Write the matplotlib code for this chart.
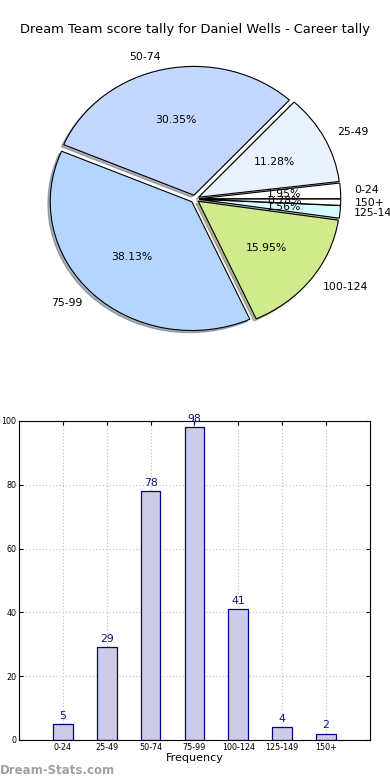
import matplotlib
matplotlib.use("Agg")
import matplotlib.pyplot as plt

# score bands and how often each was scored
bands = ["0-24", "25-49", "50-74", "75-99", "100-124", "125-149", "150+"]
counts = [5, 29, 78, 98, 41, 4, 2]
pie_colors = ["#ffffff", "#eaf1ff", "#c4d8ff", "#b4d5ff", "#d1eb8c", "#d6fbff", "#ffffff"]

title = "Dream Team score tally for Daniel Wells - Career tally"

plt.rcParams["font.family"] = "DejaVu Sans"
plt.rcParams["xtick.direction"] = "in"
plt.rcParams["ytick.direction"] = "in"

fig = plt.figure(figsize=(3.9, 7.8), dpi=100)
fig.text(0.5, 1 - 30 / 780, title, ha="center", va="center", fontsize=9.4)

# pie on top (old style: not forced round)
ax1 = fig.add_axes([0.0456, 0.5385, 0.908, 0.4128])
wedges, texts, autotexts = ax1.pie(
    counts,
    labels=bands,
    colors=pie_colors,
    explode=[0.03] * len(counts),
    autopct="%1.2f%%",
    startangle=0,
    shadow={"ox": -0.012, "oy": -0.012, "shade": 0.55},
    wedgeprops={"edgecolor": "black", "linewidth": 0.8},
    textprops={"fontsize": 7.8},
)
ax1.set_aspect("auto")
ax1.set_xlim(-1.25, 1.25)
ax1.set_ylim(-1.25, 1.25)

# bar chart underneath
ax2 = fig.add_axes([0.0487, 0.0513, 0.9, 0.409])
x = list(range(len(bands)))
bars = ax2.bar(x, counts, width=0.45, color="#cccce6", edgecolor="#000080", linewidth=0.9, zorder=2)
for xi, c in zip(x, counts):
    ax2.text(xi, c + 1, str(c), ha="center", va="bottom", color="#10107a", fontsize=7.8, zorder=3)
ax2.set_xlim(-1, 7)
ax2.set_ylim(0, 100)
ax2.set_xticks(x)
ax2.set_xticklabels(bands)
ax2.set_yticks([0, 20, 40, 60, 80, 100])
ax2.tick_params(axis="both", labelsize=5.8, top=True, right=True, length=3, pad=2)
ax2.grid(True, linestyle=(0, (1, 2)), color="#bbbbbb", linewidth=0.8, zorder=0)
ax2.set_axisbelow(True)
ax2.set_xlabel("Frequency", fontsize=8, labelpad=1)

fig.text(0.0, 1 - 771 / 780, "Dream-Stats.com", ha="left", va="center",
         fontsize=8.5, color="#a0a0a0", fontweight="bold")

fig.savefig("out.png", dpi=100)
